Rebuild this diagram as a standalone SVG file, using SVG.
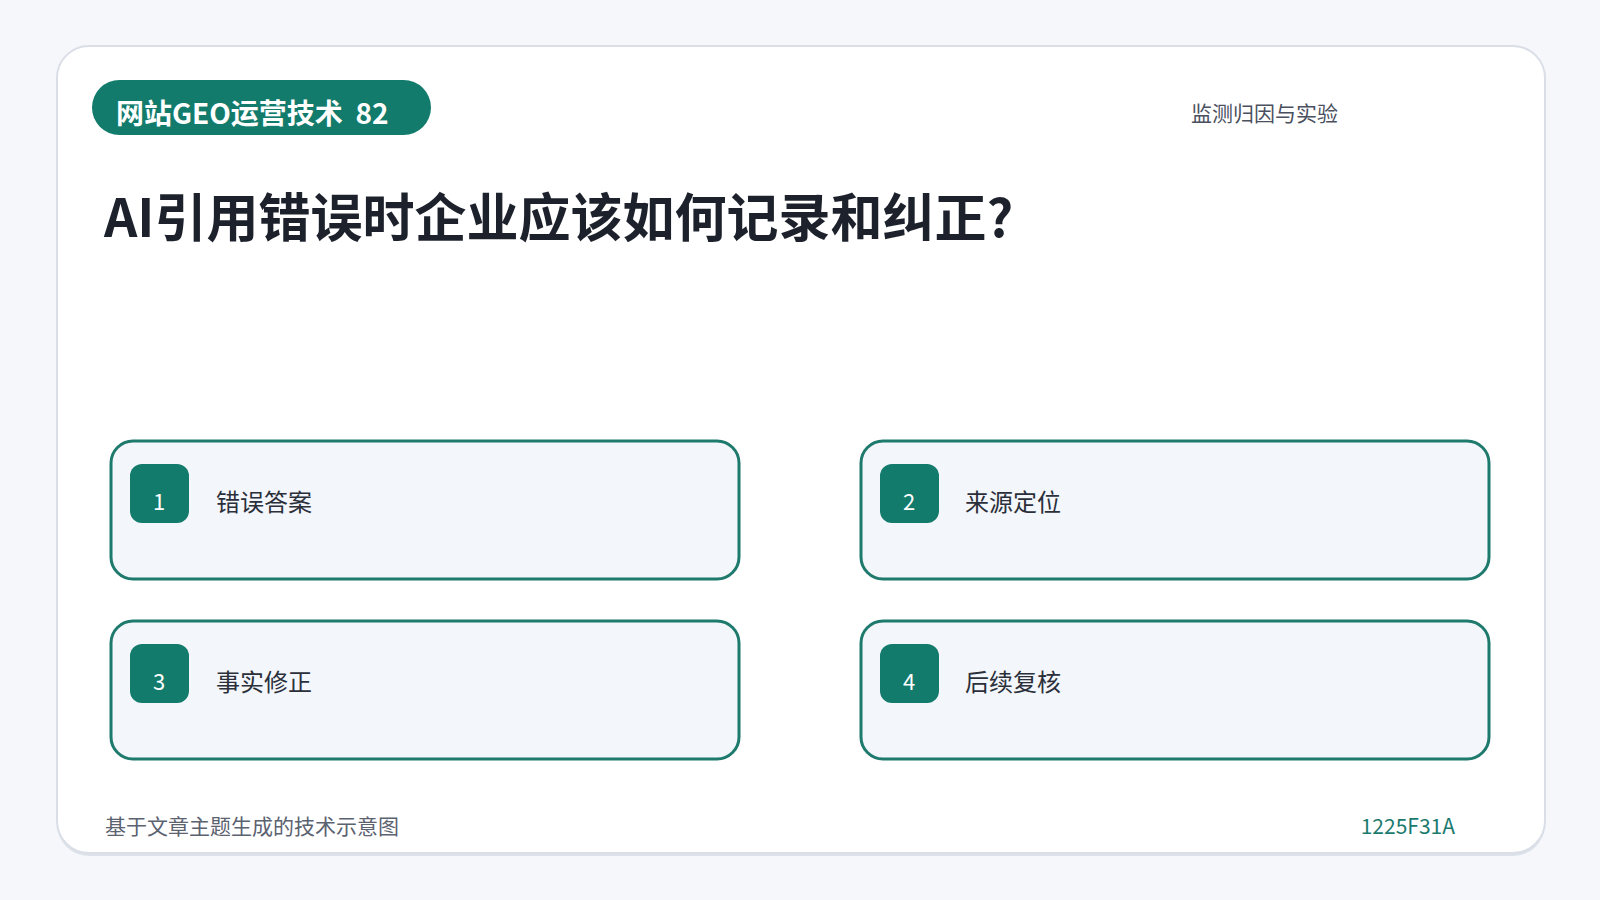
<svg xmlns="http://www.w3.org/2000/svg" width="1600" height="900" viewBox="0 0 1600 900">
  <style>
    .cjk { font-family: "Noto Sans CJK SC", "Noto Sans", sans-serif; }
    .box { fill: #f3f6fa; stroke: #1f7a6e; stroke-width: 3; }
    .badge { fill: #127b6c; }
    .num { fill: #ffffff; font-size: 22px; text-anchor: middle; }
    .label { fill: #2a2f3a; font-size: 24px; }
  </style>
  <rect x="0" y="0" width="1600" height="900" fill="#f5f7fa"/>
  <g id="card">
    <rect x="57" y="49" width="1488" height="807" rx="32" fill="#dde2ea"/>
    <rect x="57" y="46" width="1488" height="807" rx="32" fill="#ffffff" stroke="#d9dee7" stroke-width="2"/>
  </g>
  <g id="header">
    <rect x="92" y="80" width="339" height="55" rx="27.5" fill="#127b6c"/>
    <text class="cjk" x="116" y="124" font-size="28" font-weight="700" fill="#ffffff" xml:space="preserve">网站GEO运营技术  82</text>
    <text class="cjk" x="1191" y="121" font-size="21" fill="#4a5060">监测归因与实验</text>
  </g>
  <g id="title">
    <text class="cjk" x="104" y="237" font-size="52" font-weight="700" fill="#1c212b">AI引用错误时企业应该如何记录和纠正?</text>
  </g>
  <g id="connectors"></g>
  <g id="node1">
    <rect class="box" x="111" y="441" width="628" height="138" rx="22"/>
    <rect class="badge" x="130" y="464" width="59" height="59" rx="12"/>
    <text class="cjk num" x="159" y="510">1</text>
    <text class="cjk label" x="216" y="511">错误答案</text>
  </g>
  <g id="node2">
    <rect class="box" x="861" y="441" width="628" height="138" rx="22"/>
    <rect class="badge" x="880" y="464" width="59" height="59" rx="12"/>
    <text class="cjk num" x="909" y="510">2</text>
    <text class="cjk label" x="965" y="511">来源定位</text>
  </g>
  <g id="node3">
    <rect class="box" x="111" y="621" width="628" height="138" rx="22"/>
    <rect class="badge" x="130" y="644" width="59" height="59" rx="12"/>
    <text class="cjk num" x="159" y="690">3</text>
    <text class="cjk label" x="216" y="691">事实修正</text>
  </g>
  <g id="node4">
    <rect class="box" x="861" y="621" width="628" height="138" rx="22"/>
    <rect class="badge" x="880" y="644" width="59" height="59" rx="12"/>
    <text class="cjk num" x="909" y="690">4</text>
    <text class="cjk label" x="965" y="691">后续复核</text>
  </g>
  <g id="footer">
    <text class="cjk" x="105" y="834" font-size="21" fill="#5b6270">基于文章主题生成的技术示意图</text>
    <text class="cjk" x="1455" y="834" font-size="21" fill="#1b7a6e" text-anchor="end">1225F31A</text>
  </g>
</svg>
